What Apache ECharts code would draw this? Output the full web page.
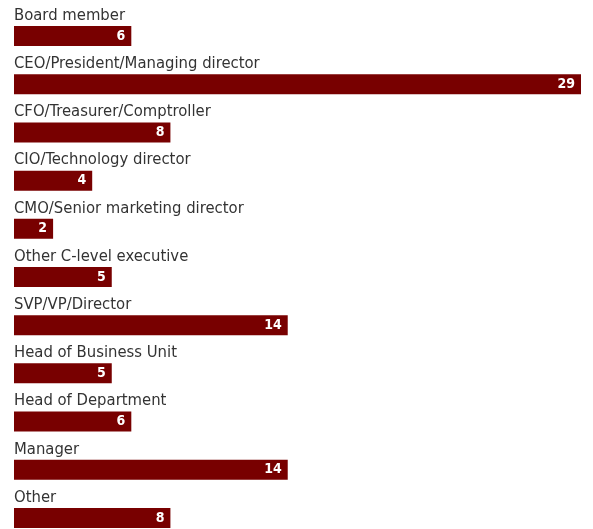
<!DOCTYPE html>
<html>
<head>
<meta charset="utf-8">
<script src="https://cdn.jsdelivr.net/npm/echarts@6/dist/echarts.min.js"></script>
<style>
  html, body { margin: 0; padding: 0; background: #fff; overflow: hidden; }
  #chart { width: 593px; height: 542px; }
</style>
</head>
<body>
<div id="chart"></div>
<script>
// Job titles of respondents (counts)
const roles = [
  'Board member',
  'CEO/President/Managing director',
  'CFO/Treasurer/Comptroller',
  'CIO/Technology director',
  'CMO/Senior marketing director',
  'Other C-level executive',
  'SVP/VP/Director',
  'Head of Business Unit',
  'Head of Department',
  'Manager',
  'Other'
];
const counts = [6, 29, 8, 4, 2, 5, 14, 5, 6, 14, 8];

const chart = echarts.init(document.getElementById('chart'));
chart.setOption({
  animation: false,
  grid: { left: 14, top: 12, width: 567, height: 530 },
  xAxis: {
    type: 'value', min: 0, max: 29,
    show: false
  },
  yAxis: {
    type: 'category',
    data: roles,
    inverse: true,
    axisLine: { show: false },
    axisTick: { show: false },
    axisLabel: {
      inside: true,
      margin: 0,
      align: 'left',
      verticalAlign: 'bottom',
      padding: [0, 0, 12, 0],
      fontFamily: 'DejaVu Sans Condensed',
      fontSize: 16.5,
      color: '#333'
    },
    z: 10
  },
  series: [{
    type: 'bar',
    data: counts,
    barWidth: 20,
    itemStyle: { color: '#780000' },
    label: {
      show: true,
      position: 'insideRight',
      distance: 6,
      color: '#fff',
      fontWeight: 'bold',
      fontFamily: 'DejaVu Sans Condensed',
      fontSize: 14
    }
  }]
});
</script>
</body>
</html>
